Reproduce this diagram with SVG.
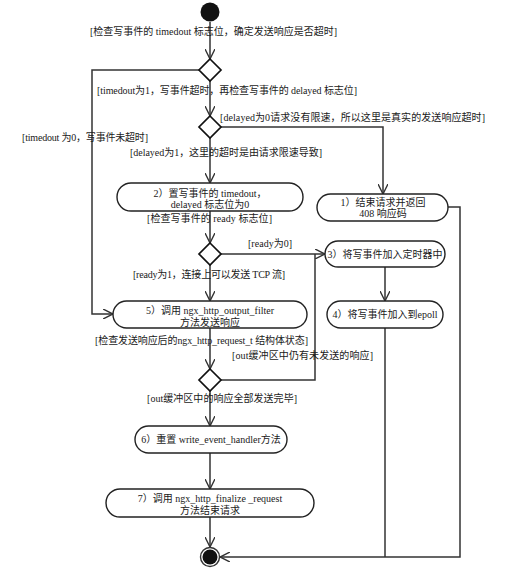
<svg xmlns="http://www.w3.org/2000/svg" width="515" height="573" viewBox="0 0 515 573">
<defs>
<style>
.ln{fill:none;stroke:#333;stroke-width:1.5}
.nd{fill:#fff;stroke:#222;stroke-width:1.4}
.dm{fill:#fff;stroke:#111;stroke-width:1.7}
text{font-family:"Liberation Serif","Noto Sans CJK SC",serif;font-size:10px;fill:#1a1a1a}
.c{text-anchor:middle}
</style>
<marker id="ar" viewBox="0 0 10 10" refX="10" refY="5" markerWidth="10" markerHeight="10" markerUnits="userSpaceOnUse" orient="auto">
<path d="M0,0 L10,5 L0,10" fill="none" stroke="#333" stroke-width="1.4"/>
</marker>
</defs>
<rect width="515" height="573" fill="#fff"/>

<g id="connectors">
<line class="ln" x1="210" y1="22" x2="210" y2="59" marker-end="url(#ar)"/>
<polyline class="ln" points="199,70 92,70 92,314 113,314" marker-end="url(#ar)"/>
<line class="ln" x1="210" y1="81" x2="210" y2="116" marker-end="url(#ar)"/>
<polyline class="ln" points="221,127 383,127 383,194" marker-end="url(#ar)"/>
<line class="ln" x1="210" y1="138" x2="210" y2="183" marker-end="url(#ar)"/>
<line class="ln" x1="210" y1="211" x2="210" y2="243" marker-end="url(#ar)"/>
<line class="ln" x1="221" y1="254" x2="325" y2="254" marker-end="url(#ar)"/>
<line class="ln" x1="210" y1="265" x2="210" y2="301" marker-end="url(#ar)"/>
<line class="ln" x1="385" y1="267" x2="385" y2="301" marker-end="url(#ar)"/>
<polyline class="ln" points="385,328 385,557"/>
<polyline class="ln" points="448,207 460,207 460,557 220,557" marker-end="url(#ar)"/>
<line class="ln" x1="210" y1="328" x2="210" y2="369" marker-end="url(#ar)"/>
<polyline class="ln" points="221,380 315,380 315,254"/>
<line class="ln" x1="210" y1="391" x2="210" y2="426" marker-end="url(#ar)"/>
<line class="ln" x1="210" y1="453" x2="210" y2="489" marker-end="url(#ar)"/>
<line class="ln" x1="210" y1="517" x2="210" y2="547" marker-end="url(#ar)"/>
</g>

<g id="labels">
<text x="90" y="35" textLength="247">[检查写事件的 timedout 标志位，确定发送响应是否超时]</text>
<text x="97" y="94" textLength="260">[timedout为1，写事件超时，再检查写事件的 delayed 标志位]</text>
<text x="220" y="121" textLength="265">[delayed为0请求没有限速，所以这里是真实的发送响应超时]</text>
<text x="22" y="141" textLength="126">[timedout 为0，写事件未超时]</text>
<text x="130" y="156" textLength="192">[delayed为1，这里的超时是由请求限速导致]</text>
<text x="147" y="222" textLength="125">[检查写事件的 ready 标志位]</text>
<text x="248" y="247" textLength="44">[ready为0]</text>
<text x="133" y="278" textLength="152">[ready为1，连接上可以发送 TCP 流]</text>
<text x="95" y="344" textLength="213">[检查发送响应后的ngx_http_request_t 结构体状态]</text>
<text x="232" y="359" textLength="141">[out缓冲区中仍有未发送的响应]</text>
<text x="147" y="402" textLength="150">[out缓冲区中的响应全部发送完毕]</text>
</g>

<g id="start"><circle cx="210" cy="12" r="9.5" fill="#111"/></g>

<g id="d1"><polygon class="dm" points="210,59 221,70 210,81 199,70"/></g>
<g id="d2"><polygon class="dm" points="210,116 221,127 210,138 199,127"/></g>
<g id="d3"><polygon class="dm" points="210,243 221,254 210,265 199,254"/></g>
<g id="d4"><polygon class="dm" points="210,369 221,380 210,391 199,380"/></g>

<g id="n2">
<rect class="nd" x="117" y="183" width="186" height="28" rx="14"/>
<text class="c" x="210" y="196.5">2）置写事件的 timedout，</text>
<text class="c" x="210" y="207.5">delayed 标志位为0</text>
</g>
<g id="n1">
<rect class="nd" x="317" y="194" width="131" height="27" rx="13.5"/>
<text class="c" x="383" y="205.5">1）结束请求并返回</text>
<text class="c" x="383" y="216.5">408 响应码</text>
</g>
<g id="n3">
<rect class="nd" x="325" y="241" width="120" height="26" rx="13"/>
<text class="c" x="385" y="257.5">3）将写事件加入定时器中</text>
</g>
<g id="n4">
<rect class="nd" x="327" y="301" width="116" height="27" rx="13.5"/>
<text class="c" x="385" y="318">4）将写事件加入到epoll</text>
</g>
<g id="n5">
<rect class="nd" x="113" y="301" width="194" height="27" rx="13.5"/>
<text class="c" x="210" y="313.5">5）调用 ngx_http_output_filter</text>
<text class="c" x="210" y="325.5">方法发送响应</text>
</g>
<g id="n6">
<rect class="nd" x="135" y="426" width="152" height="27" rx="13.5"/>
<text class="c" x="211" y="443">6）重置 write_event_handler方法</text>
</g>
<g id="n7">
<rect class="nd" x="106" y="489" width="208" height="28" rx="14"/>
<text class="c" x="210" y="501.5">7）调用 ngx_http_finalize _request</text>
<text class="c" x="210" y="513.5">方法结束请求</text>
</g>

<g id="end">
<circle cx="210" cy="557" r="9.5" fill="#fff" stroke="#333" stroke-width="1.4"/>
<circle cx="210" cy="557" r="7.5" fill="#111"/>
</g>
</svg>
